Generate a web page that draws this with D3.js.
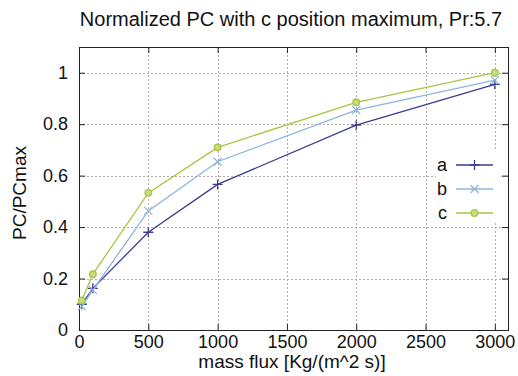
<!DOCTYPE html>
<html>
<head>
<meta charset="utf-8">
<script src="https://cdn.jsdelivr.net/npm/d3@7"></script>
<style>
  body { margin: 0; background: #fff; }
  text { font-family: "Liberation Sans", Arial, sans-serif; fill: #111; }
</style>
</head>
<body>
<svg id="chart" width="518" height="376"></svg>
<script>
// values
var massFlux = [20, 100, 500, 1000, 2000, 3000]
var seriesA = [0.10, 0.162, 0.38, 0.566, 0.796, 0.955]
var seriesB = [0.092, 0.155, 0.463, 0.654, 0.855, 0.971]
var seriesC = [0.115, 0.217, 0.533, 0.71, 0.885, 1.0]
var seriesNames = ['a', 'b', 'c']
var seriesColors = ['#3c3c8e', '#8cb4de', '#a6c640']
var xTicks = [0, 500, 1000, 1500, 2000, 2500, 3000]
var yTicks = [0, 0.2, 0.4, 0.6, 0.8, 1]

var W = 518, H = 376
var margin = {top: 47, right: 10, bottom: 46, left: 79}
var svg = d3.select('#chart')

var x = d3.scaleLinear().domain([0, 3095]).range([margin.left, W - margin.right])
var y = d3.scaleLinear().domain([0, 1.1]).range([H - margin.bottom, margin.top])

var x0 = x.range()[0], x1 = x.range()[1]
var y0 = y.range()[0], y1 = y.range()[1]

// grid
var grid = svg.append('g')
  .style('stroke', '#b9a9a9')
  .style('stroke-width', 1)
  .style('stroke-dasharray', '2,2')
grid.selectAll('.gx').data(xTicks.slice(1)).enter().append('line')
  .attr('x1', d => Math.round(x(d)) + 0.5).attr('x2', d => Math.round(x(d)) + 0.5)
  .attr('y1', y1).attr('y2', y0)
grid.selectAll('.gy').data(yTicks.slice(1)).enter().append('line')
  .attr('y1', d => Math.round(y(d)) + 0.5).attr('y2', d => Math.round(y(d)) + 0.5)
  .attr('x1', x0).attr('x2', x1)

// axes (ticks inward, mirrored like gnuplot)
var fmtY = d => d === 0 ? '0' : (d === 1 ? '1' : d3.format('.1f')(d))
var bottomAxis = svg.append('g')
  .attr('transform', 'translate(0,' + y0 + ')')
  .call(d3.axisBottom(x).tickValues(xTicks).tickSizeInner(-6).tickSizeOuter(0).tickPadding(5).tickFormat(d3.format('d')))
var topAxis = svg.append('g')
  .attr('transform', 'translate(0,' + y1 + ')')
  .call(d3.axisTop(x).tickValues(xTicks).tickSizeInner(-6).tickSizeOuter(0).tickFormat(''))
var leftAxis = svg.append('g')
  .attr('transform', 'translate(' + x0 + ',0)')
  .call(d3.axisLeft(y).tickValues(yTicks).tickSizeInner(-6).tickSizeOuter(0).tickPadding(11).tickFormat(fmtY))
var rightAxis = svg.append('g')
  .attr('transform', 'translate(' + x1 + ',0)')
  .call(d3.axisRight(y).tickValues(yTicks).tickSizeInner(-6).tickSizeOuter(0).tickFormat(''))

;[bottomAxis, topAxis, leftAxis, rightAxis].forEach(function (g) {
  g.select('.domain').remove()
  g.selectAll('line').attr('stroke', '#222')
  g.selectAll('text').style('font-size', '18px').attr('fill', '#111')
})

svg.append('rect')
  .attr('x', x0 + 0.5).attr('y', y1 + 0.5)
  .attr('width', x1 - x0).attr('height', y0 - y1)
  .attr('fill', 'none').attr('stroke', '#222')

// series
var allSeries = [seriesA, seriesB, seriesC]
var line = d3.line().x(d => x(d[0])).y(d => y(d[1]))

function drawMarker (g, i, cx, cy) {
  var c = seriesColors[i]
  if (i === 0) {
    g.append('path').attr('d', 'M' + (cx - 5) + ',' + cy + 'h10M' + cx + ',' + (cy - 5) + 'v10')
      .attr('stroke', c).attr('stroke-width', 1.3)
  } else if (i === 1) {
    g.append('path').attr('d', 'M' + (cx - 4) + ',' + (cy - 4) + 'l8,8M' + (cx - 4) + ',' + (cy + 4) + 'l8,-8')
      .attr('stroke', c).attr('stroke-width', 1.2)
  } else {
    g.append('circle').attr('cx', cx).attr('cy', cy).attr('r', 3.3)
      .attr('fill', '#c6dc7e').attr('stroke', c).attr('stroke-width', 1.3)
  }
}

allSeries.forEach(function (vals, i) {
  var pts = massFlux.map((m, k) => [m, vals[k]])
  var g = svg.append('g')
  g.append('path').datum(pts)
    .attr('d', line)
    .attr('fill', 'none')
    .attr('stroke', seriesColors[i])
    .attr('stroke-width', 1.3)
  pts.forEach(p => drawMarker(g, i, x(p[0]), y(p[1])))
})

// legend
var legend = svg.append('g')
legend.append('rect')
  .attr('x', 436).attr('y', 151).attr('width', 64).attr('height', 72)
  .attr('fill', '#fff')
seriesNames.forEach(function (name, i) {
  var ly = 165 + i * 24
  legend.append('text').attr('x', 447).attr('y', ly + 6)
    .attr('text-anchor', 'end').style('font-size', '18px').text(name)
  legend.append('line')
    .attr('x1', 456).attr('x2', 493).attr('y1', ly).attr('y2', ly)
    .attr('stroke', seriesColors[i]).attr('stroke-width', 1.3)
  drawMarker(legend, i, 474.5, ly)
})

// titles
svg.append('text')
  .attr('x', 291).attr('y', 26)
  .attr('text-anchor', 'middle')
  .style('font-size', '20px')
  .text('Normalized PC with c position maximum, Pr:5.7')

svg.append('text')
  .attr('x', 292).attr('y', 368)
  .attr('text-anchor', 'middle')
  .style('font-size', '19px')
  .text('mass flux [Kg/(m^2 s)]')

svg.append('text')
  .attr('transform', 'translate(26,' + 193 + ') rotate(-90)')
  .attr('text-anchor', 'middle')
  .style('font-size', '19px')
  .text('PC/PCmax')
</script>
</body>
</html>
